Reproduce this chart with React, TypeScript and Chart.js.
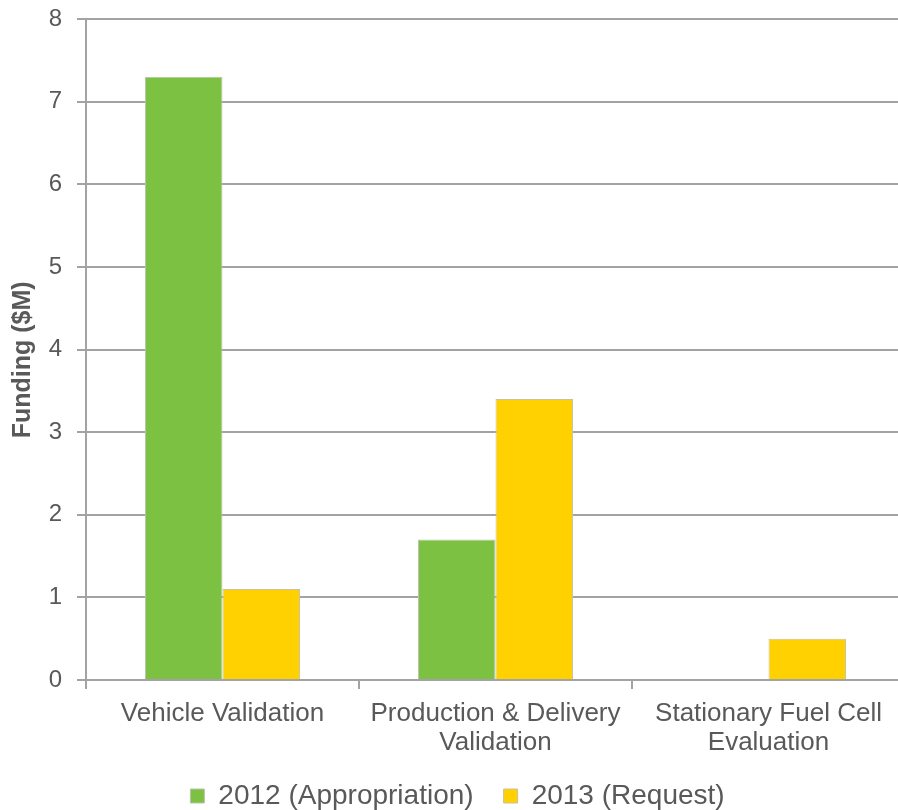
import React, { useEffect, useRef } from "react";
import { Chart, registerables } from "chart.js";

Chart.register(...registerables);

const categories: string[][] = [
  ["Vehicle Validation"],
  ["Production & Delivery", "Validation"],
  ["Stationary Fuel Cell", "Evaluation"],
];
const series2012: (number | null)[] = [7.3, 1.7, null];
const series2013: number[] = [1.1, 3.4, 0.5];
const seriesLabels = ["2012 (Appropriation)", "2013 (Request)"];
const yTicks = [0, 1, 2, 3, 4, 5, 6, 7, 8];

const FONT = "'Liberation Sans', Arial, sans-serif";
const TEXT = "#595959";
const GRID = "#a3a3a3";

export default function App() {
  const ref = useRef<HTMLCanvasElement | null>(null);

  useEffect(() => {
    if (!ref.current) return;
    const chart = new Chart(ref.current, {
      type: "bar",
      data: {
        labels: categories,
        datasets: [
          {
            label: seriesLabels[0],
            data: series2012,
            backgroundColor: "#7cc142",
            borderColor: "#b8c4ae",
            borderWidth: 1,
          },
          {
            label: seriesLabels[1],
            data: series2013,
            backgroundColor: "#ffd100",
            borderColor: "#c9c2a0",
            borderWidth: 1,
          },
        ],
      },
      options: {
        animation: false,
        responsive: false,
        maintainAspectRatio: false,
        layout: { padding: { top: 19, right: 15, left: 10, bottom: 0 } },
        datasets: {
          bar: { categoryPercentage: 0.568, barPercentage: 1 },
        },
        plugins: {
          tooltip: { enabled: false },
          legend: {
            position: "bottom",
            labels: {
              boxWidth: 14,
              boxHeight: 14,
              padding: 30,
              color: TEXT,
              font: { family: FONT, size: 28 },
            },
          },
        },
        scales: {
          x: {
            offset: true,
            afterFit: (s: any) => {
              s.height = 72;
              s.paddingLeft = 0;
              s.paddingRight = 0;
            },
            grid: {
              display: true,
              drawOnChartArea: false,
              drawTicks: true,
              tickLength: 9,
              color: GRID,
              lineWidth: 2,
              offset: true,
            },
            border: { display: true, color: GRID, width: 2 },
            ticks: {
              color: TEXT,
              padding: 10,
              maxRotation: 0,
              autoSkip: false,
              font: { family: FONT, size: 26, lineHeight: 1.115 },
            },
          },
          y: {
            min: 0,
            max: 8,
            afterFit: (s: any) => {
              s.width = 76;
              s.paddingTop = 0;
              s.paddingBottom = 0;
            },
            afterBuildTicks: (s: any) => {
              s.ticks = yTicks.map((v) => ({ value: v }));
            },
            grid: {
              color: GRID,
              lineWidth: 2,
              tickLength: 9,
              drawTicks: true,
            },
            border: { display: true, color: GRID, width: 2 },
            ticks: {
              color: TEXT,
              padding: 15,
              font: { family: FONT, size: 24 },
            },
            title: {
              display: true,
              text: "Funding ($M)   ",
              color: TEXT,
              padding: { top: 0.5, bottom: 0 },
              font: { family: FONT, size: 25, weight: "bold", lineHeight: 1 },
            },
          },
        },
      },
    });
    return () => chart.destroy();
  }, []);

  return (
    <div
      style={{
        position: "absolute",
        left: 0,
        top: 0,
        width: 898,
        height: 810,
        overflow: "hidden",
        background: "#fff",
      }}
    >
      <canvas ref={ref} width={920} height={820} style={{ display: "block" }} />
    </div>
  );
}
